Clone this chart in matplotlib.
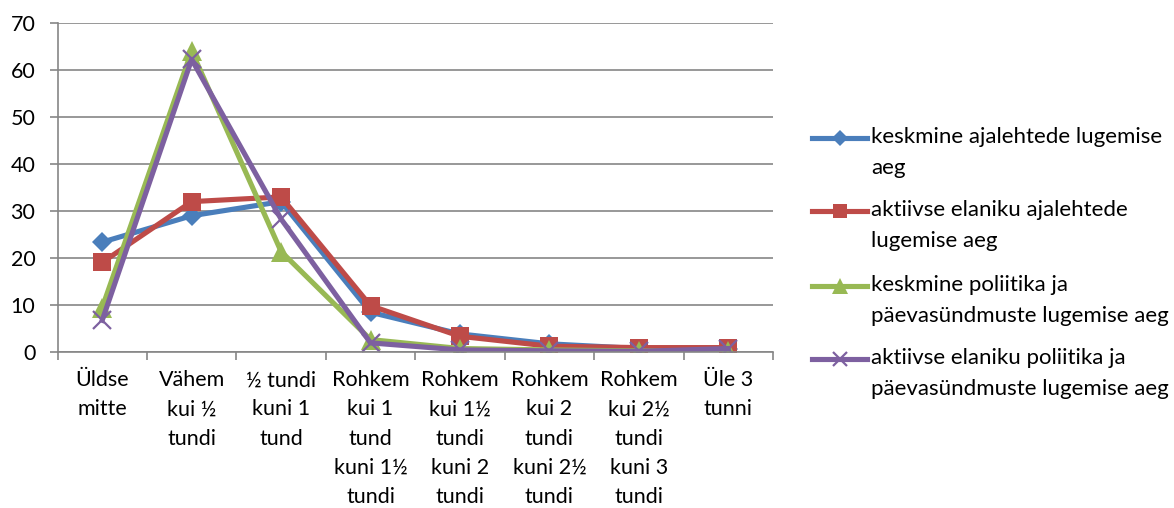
import matplotlib
matplotlib.use("Agg")
import matplotlib.pyplot as plt
from matplotlib.lines import Line2D
import numpy as np

plt.rcParams['font.family'] = ['Lato', 'DejaVu Sans']

categories = ["Üldse\nmitte", "Vähem\nkui ½\ntundi", "½ tundi\nkuni 1\ntund",
              "Rohkem\nkui 1\ntund\nkuni 1½\ntundi", "Rohkem\nkui 1½\ntundi\nkuni 2\ntundi",
              "Rohkem\nkui 2\ntundi\nkuni 2½\ntundi", "Rohkem\nkui 2½\ntundi\nkuni 3\ntundi",
              "Üle 3\ntunni"]
series_names = ["keskmine ajalehtede lugemise\naeg",
                "aktiivse elaniku ajalehtede\nlugemise aeg",
                "keskmine poliitika ja\npäevasündmuste lugemise aeg",
                "aktiivse elaniku poliitika ja\npäevasündmuste lugemise aeg"]
blue = [23.4, 29.0, 32.0, 8.5, 3.9, 1.8, 0.8, 0.7]
red = [19.1, 32.0, 33.0, 9.9, 3.4, 1.3, 1.0, 1.0]
green = [9.5, 64.0, 21.4, 2.7, 0.8, 0.5, 0.3, 0.2]
purple = [6.8, 62.2, 28.3, 2.0, 0.5, 0.3, 0.2, 0.8]
yticks = [0, 10, 20, 30, 40, 50, 60, 70]

colors = ["#4A7EBB", "#BE4B48", "#98B954", "#7D60A0"]
markers = ["D", "s", "^", "x"]
msizes = [10, 13, 14, 13]
FS = 15.5
W, H = 1174, 508

fig = plt.figure(figsize=(W/100, H/100), dpi=100)
ax = fig.add_axes([57.5/W, 1-352.3/H, (773-57.5)/W, (352.3-22.7)/H])

x = np.arange(len(categories))
for vals, c, m, ms in zip([blue, red, green, purple], colors, markers, msizes):
    kw = dict(markeredgewidth=1.6) if m == "x" else dict(markeredgewidth=0)
    ax.plot(x, vals, color=c, linewidth=3.7, marker=m, markersize=ms,
            markerfacecolor=c, markeredgecolor=c, **kw)

ax.set_xlim(-0.5, len(categories) - 0.5)
ax.set_ylim(0, 70)
ax.set_yticks(yticks)
ax.set_yticklabels([str(v) for v in yticks], fontsize=FS)
ax.yaxis.grid(True, color="#868686", linewidth=1.2)
ax.set_axisbelow(True)
ax.set_xticks(x)
ax.set_xticklabels(categories, fontsize=FS, linespacing=1.57, va='top')
ax.tick_params(axis='x', which='major', length=0, pad=13)
ax.set_xticks(np.arange(-0.5, len(categories)), minor=True)
ax.tick_params(axis='x', which='minor', length=6, color="#868686", width=1.2)
ax.tick_params(axis='y', length=6, color="#868686", width=1.2, pad=10)
for s in ['top', 'right']:
    ax.spines[s].set_visible(False)
for s in ['left', 'bottom']:
    ax.spines[s].set_color("#868686")
    ax.spines[s].set_linewidth(1.2)

# legend drawn manually: handle aligned with first text line
leg_y = [138, 211, 286, 359]
for name, c, m, ms, yy in zip(series_names, colors, markers, msizes, leg_y):
    yf = 1 - yy / H
    kw = dict(markeredgewidth=1.6) if m == "x" else dict(markeredgewidth=0)
    fig.add_artist(Line2D([812/W, 867/W], [yf, yf], transform=fig.transFigure, color=c,
                          linewidth=3.7))
    fig.add_artist(Line2D([839.5/W], [yf], transform=fig.transFigure, color=c,
                          marker=m, markersize=ms*0.8, markerfacecolor=c, markeredgecolor=c, **kw))
    fig.text(871/W, yf + 11/H, name, fontsize=16, va='top', ha='left', linespacing=1.7)

fig.savefig("out.png", dpi=100)
